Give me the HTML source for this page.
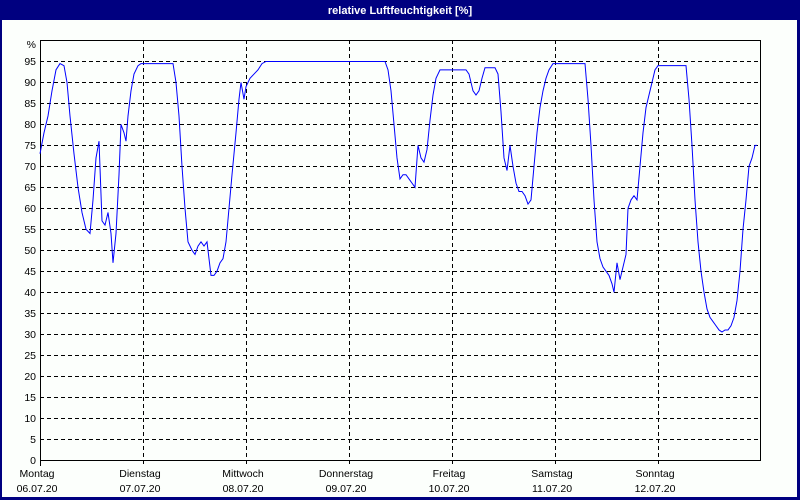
<!DOCTYPE html>
<html><head><meta charset="utf-8"><style>
html,body{margin:0;padding:0;background:#000080;}
svg{display:block;font-family:"Liberation Sans",sans-serif;font-size:10.5px;}
</style></head><body>
<svg width="800" height="500" xmlns="http://www.w3.org/2000/svg">
<rect x="0" y="0" width="800" height="500" fill="#000080"/>
<rect x="2" y="20" width="795" height="477" fill="#fcfffc"/>
<text x="400" y="14" fill="#fff" font-weight="bold" font-size="11" text-anchor="middle">relative Luftfeuchtigkeit [%]</text>
<g stroke="#000" stroke-width="1" stroke-dasharray="4,3" shape-rendering="crispEdges">
<line x1="40" x2="760" y1="61.5" y2="61.5"/><line x1="40" x2="760" y1="82.5" y2="82.5"/><line x1="40" x2="760" y1="103.5" y2="103.5"/><line x1="40" x2="760" y1="124.5" y2="124.5"/><line x1="40" x2="760" y1="145.5" y2="145.5"/><line x1="40" x2="760" y1="166.5" y2="166.5"/><line x1="40" x2="760" y1="187.5" y2="187.5"/><line x1="40" x2="760" y1="208.5" y2="208.5"/><line x1="40" x2="760" y1="229.5" y2="229.5"/><line x1="40" x2="760" y1="250.5" y2="250.5"/><line x1="40" x2="760" y1="271.5" y2="271.5"/><line x1="40" x2="760" y1="292.5" y2="292.5"/><line x1="40" x2="760" y1="313.5" y2="313.5"/><line x1="40" x2="760" y1="334.5" y2="334.5"/><line x1="40" x2="760" y1="355.5" y2="355.5"/><line x1="40" x2="760" y1="376.5" y2="376.5"/><line x1="40" x2="760" y1="397.5" y2="397.5"/><line x1="40" x2="760" y1="418.5" y2="418.5"/><line x1="40" x2="760" y1="439.5" y2="439.5"/>
<line x1="143.5" x2="143.5" y1="40" y2="466"/><line x1="246.5" x2="246.5" y1="40" y2="466"/><line x1="349.5" x2="349.5" y1="40" y2="466"/><line x1="452.5" x2="452.5" y1="40" y2="466"/><line x1="555.5" x2="555.5" y1="40" y2="466"/><line x1="658.5" x2="658.5" y1="40" y2="466"/>
</g>
<rect x="40.5" y="40.5" width="720" height="420" fill="none" stroke="#000" shape-rendering="crispEdges"/>
<line x1="40.5" x2="40.5" y1="460" y2="466" stroke="#000" shape-rendering="crispEdges"/>
<g text-anchor="end" fill="#000">
<text x="36" y="48">%</text><text x="36" y="65">95</text><text x="36" y="86">90</text><text x="36" y="107">85</text><text x="36" y="128">80</text><text x="36" y="149">75</text><text x="36" y="170">70</text><text x="36" y="191">65</text><text x="36" y="212">60</text><text x="36" y="233">55</text><text x="36" y="254">50</text><text x="36" y="275">45</text><text x="36" y="296">40</text><text x="36" y="317">35</text><text x="36" y="338">30</text><text x="36" y="359">25</text><text x="36" y="380">20</text><text x="36" y="401">15</text><text x="36" y="422">10</text><text x="36" y="443">5</text><text x="36" y="464">0</text>
</g>
<g text-anchor="middle" fill="#000">
<text x="37" y="477">Montag</text><text x="37" y="492">06.07.20</text>
<text x="140" y="477">Dienstag</text><text x="140" y="492">07.07.20</text>
<text x="243" y="477">Mittwoch</text><text x="243" y="492">08.07.20</text>
<text x="346" y="477">Donnerstag</text><text x="346" y="492">09.07.20</text>
<text x="449" y="477">Freitag</text><text x="449" y="492">10.07.20</text>
<text x="552" y="477">Samstag</text><text x="552" y="492">11.07.20</text>
<text x="655" y="477">Sonntag</text><text x="655" y="492">12.07.20</text>
</g>
<g transform="translate(0,460) scale(1,-4.195)">
<polyline fill="none" stroke="#0000ff" stroke-width="1" vector-effect="non-scaling-stroke" points="40,73 44,78 48,82 52,88 56,93 60,94.5 64,94 67,90 70,82 74,73 78,65 82,59 86,55 90,54 93,62 96,72 99,76 102,57 105,56 108,59 111,54 113,47 116,54 119,68 121,80 124,78 126,76 128,82 131,88 134,92 138,94 141,94.5 173,94.5 176,90 179,82 182,70 185,60 188,52 192,50 195,49 198,51 201,52 204,51 207,52 209,48 211,44 214,44 217,45 220,47 223,48 226,52 229,60 232,68 236,78 239,86 241,90 244,86 246,89 250,91 254,92 258,93 262,94.5 266,95 385,95 388,93 391,88 394,80 397,72 400,67 403,68 406,68 409,67 412,66 415,65 418,75 421,72 424,71 427,74 430,81 433,87 436,91 440,93 466,93 469,92 473,88 476,87 479,88 482,91 485,93.5 495,93.5 498,92 501,83 504,72 507,69 510,75 513,70 516,66 519,64 522,64 525,63 528,61 531,62 534,70 537,78 540,84 543,88 546,91 549,93 553,94.5 585,94.5 588,86 591,75 594,62 597,52 600,48 603,46 606,45 609,44 612,42 614,40 617,47 620,43 623,46 626,49 628,60 631,62 634,63 637,62 640,70 643,78 646,84 649,87 652,90 655,93 658,94 686,94 689,86 692,75 695,62 698,52 701,45 704,40 707,36 710,34 713,33 716,32 719,31 722,30.5 725,31 728,31 731,32 734,34 737,38 740,45 743,55 746,62 749,70 752,72 755,75 757,75"/>
</g>
</svg>
</body></html>
